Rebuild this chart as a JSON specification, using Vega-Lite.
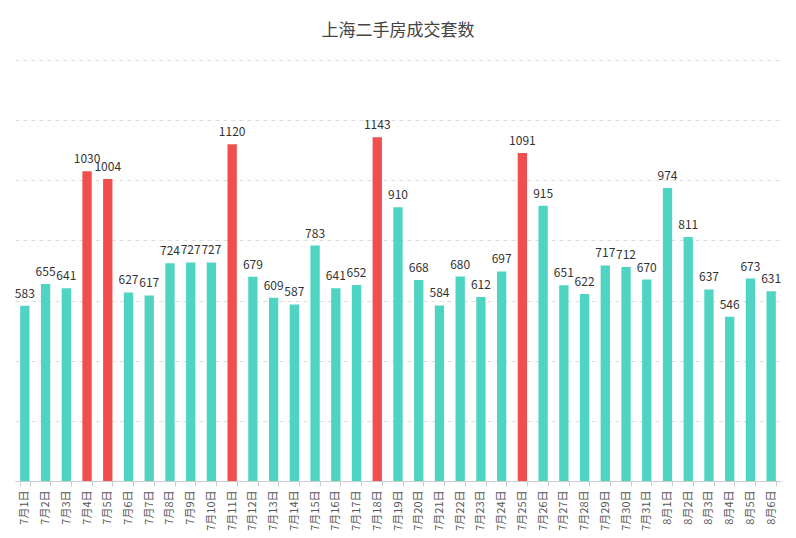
{
  "$schema": "https://vega.github.io/schema/vega-lite/v6.json",
  "width": 766,
  "height": 421,
  "padding": {"left": 15, "top": 60, "right": 15, "bottom": 57},
  "autosize": {"type": "none"},
  "background": "white",
  "title": {"text": "上海二手房成交套数", "font": "Noto Sans CJK SC", "fontSize": 17, "fontWeight": "normal", "color": "#444", "offset": 20},
  "config": {"view": {"stroke": null}, "font": "Noto Sans CJK SC"},
  "data": {"values": [
    {"d": "7月1日", "v": 583}, {"d": "7月2日", "v": 655}, {"d": "7月3日", "v": 641}, {"d": "7月4日", "v": 1030},
    {"d": "7月5日", "v": 1004}, {"d": "7月6日", "v": 627}, {"d": "7月7日", "v": 617}, {"d": "7月8日", "v": 724},
    {"d": "7月9日", "v": 727}, {"d": "7月10日", "v": 727}, {"d": "7月11日", "v": 1120}, {"d": "7月12日", "v": 679},
    {"d": "7月13日", "v": 609}, {"d": "7月14日", "v": 587}, {"d": "7月15日", "v": 783}, {"d": "7月16日", "v": 641},
    {"d": "7月17日", "v": 652}, {"d": "7月18日", "v": 1143}, {"d": "7月19日", "v": 910}, {"d": "7月20日", "v": 668},
    {"d": "7月21日", "v": 584}, {"d": "7月22日", "v": 680}, {"d": "7月23日", "v": 612}, {"d": "7月24日", "v": 697},
    {"d": "7月25日", "v": 1091}, {"d": "7月26日", "v": 915}, {"d": "7月27日", "v": 651}, {"d": "7月28日", "v": 622},
    {"d": "7月29日", "v": 717}, {"d": "7月30日", "v": 712}, {"d": "7月31日", "v": 670}, {"d": "8月1日", "v": 974},
    {"d": "8月2日", "v": 811}, {"d": "8月3日", "v": 637}, {"d": "8月4日", "v": 546}, {"d": "8月5日", "v": 673},
    {"d": "8月6日", "v": 631}
  ]},
  "encoding": {
    "x": {"field": "d", "type": "ordinal", "sort": null, "title": null,
      "scale": {"paddingInner": 0.55, "paddingOuter": 0.25},
      "axis": {"labelAngle": -90, "labelAlign": "right", "labelBaseline": "middle", "labelFontSize": 11, "labelColor": "#555", "domainColor": "#ccc", "tickColor": "#ccc", "tickBand": "extent", "labelPadding": 4}},
    "y": {"field": "v", "type": "quantitative", "title": null,
      "scale": {"domain": [0, 1400]},
      "axis": {"tickCount": 7, "labels": false, "ticks": false, "domain": false, "gridDash": [4, 4], "gridColor": "#ddd"}}
  },
  "layer": [
    {"mark": {"type": "bar"},
     "encoding": {"color": {"condition": {"test": "datum.v > 1000", "value": "#f24e4e"}, "value": "#4fd4c4"}}},
    {"mark": {"type": "text", "dy": -12, "fontSize": 12, "color": "#333"},
     "encoding": {"text": {"field": "v", "type": "quantitative"}}}
  ]
}
